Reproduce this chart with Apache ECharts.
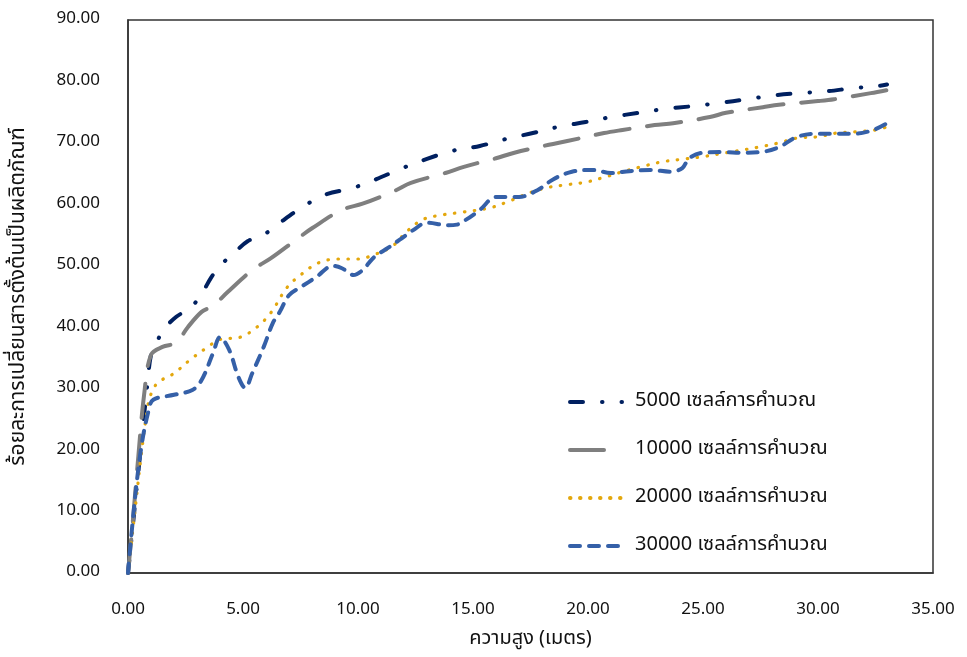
<!DOCTYPE html>
<html>
<head>
<meta charset="utf-8">
<script src="https://cdn.jsdelivr.net/npm/echarts@6/dist/echarts.min.js"></script>
<style>
html,body{margin:0;padding:0;background:#fff;}
#chart{width:967px;height:657px;}
</style>
</head>
<body>
<div id="chart"></div>
<script>
// ---- data ----
const seriesNames = ['5000 เซลล์การคำนวณ','10000 เซลล์การคำนวณ','20000 เซลล์การคำนวณ','30000 เซลล์การคำนวณ'];
const xTicks = [0,5,10,15,20,25,30,35];
const yTicks = [0,10,20,30,40,50,60,70,80,90];

const x5000 = [0,0.3,0.6,0.85,1,1.2,1.5,2.1,2.7,3.2,3.6,4,4.65,5.2,6,6.6,7.6,8.6,9.8,10.8,11.8,13,14.1,15.3,16.4,17.6,18.7,19.9,21,22.2,23.3,24.6,25.7,26.9,28,29.2,30.4,31.5,32.7,33];
const y5000 = [0,11,22,31,35.5,37,39.4,41.7,43.1,45.4,48,50,52.2,54,55.3,57,59.6,61.6,62.7,64.1,65.7,67.4,68.7,69.5,70.6,71.6,72.6,73.4,74.2,74.9,75.5,76,76.5,77.1,77.7,78.1,78.4,78.9,79.3,79.5];

const x10000 = [0,0.2,0.45,0.7,1,1.5,2.1,2.6,3.2,3.7,4.3,5.4,6.2,7.4,8,9.3,10.2,11.6,12.3,13.8,14.6,16,16.8,18.3,19.1,20.7,21.5,22.9,23.7,25.3,26,27.6,28.3,30,30.7,32.3,33];
const y10000 = [0,8,19,29,35.5,36.8,37.5,40,42.5,43.5,45.6,49.3,51.2,54.5,56.1,59.1,60.1,62.2,63.5,65.1,66.1,67.5,68.4,69.7,70.3,71.6,72.1,72.9,73.2,74.2,74.9,75.8,76.2,76.8,77.1,78.1,78.6];

const x20000 = [0,0.3,0.6,0.9,1.05,1.3,2,2.7,3.4,4,4.9,5.6,6.2,6.9,7.5,8.3,9.1,10,10.7,11.5,12.1,12.8,13.7,14.5,15.7,16.5,17.4,18.2,19.1,19.9,20.7,21.5,22.4,23.2,24,24.9,25.7,26.5,27.4,28.3,29.1,30,30.8,31.6,32.5,33];
const y20000 = [0,10,20,28,29.5,31,32.5,34.7,36.6,38,38.4,40,42.3,46.4,48.5,50.5,51.1,51.1,51.8,53.2,55.5,57.5,58.3,58.7,59.4,60.4,61.8,62.7,63.2,63.6,64.4,65.3,66.2,66.9,67.3,67.7,68.2,68.7,69.3,70,70.8,71,71.6,71.8,72.1,72.6];

const x30000 = [0,0.3,0.6,0.9,1.1,2,2.8,3.2,3.7,4,4.4,4.8,5.1,5.4,5.9,6.3,6.6,7,7.5,8.2,8.9,9.3,9.8,10.2,10.7,11.3,11.8,12.4,13,13.9,14.3,14.7,15.3,16,17,17.8,18.5,19.3,20.2,21,21.8,22.7,23.6,24.1,24.4,25,25.9,26.7,27.5,28.3,29.1,30,30.8,31.6,32.4,33];
const y30000 = [0,12,21,26.5,28.2,29,29.8,31.4,35.8,38.4,36.3,31.9,30.1,32.5,36.8,40.7,42.5,45.2,46.5,48.2,50,49.6,48.5,49.3,51.4,52.9,54.2,55.8,57,56.6,56.7,57.5,59.1,61.2,61.2,62.3,64.1,65.3,65.6,65.1,65.4,65.6,65.3,65.9,67.5,68.4,68.5,68.4,68.5,69.3,71,71.5,71.5,71.5,72.1,73.2];

const zip = (xs, ys) => xs.map((x, i) => [x, ys[i]]);

const FONT = "Tahoma, 'Noto Sans Thai', 'Noto Sans', 'DejaVu Sans', sans-serif";
const chart = echarts.init(document.getElementById('chart'), null, {renderer: 'canvas'});

const mk = (name, data, color, width, type) => ({
  name, type: 'line', data, smooth: 0.35, symbol: 'none', showSymbol: false,
  lineStyle: {color, width, type, cap: 'round', join: 'round'},
  itemStyle: {color},
  animation: false
});

chart.setOption({
  animation: false,
  backgroundColor: '#fff',
  grid: {left: 128, top: 20, right: 34, bottom: 84, show: true, borderColor: '#333', borderWidth: 1.5},
  xAxis: {
    type: 'value', min: 0, max: 35, interval: 5,
    name: 'ความสูง (เมตร)', nameLocation: 'middle', nameGap: 57,
    nameTextStyle: {fontFamily: FONT, fontSize: 20, color: '#111'},
    axisLine: {show: true, lineStyle: {color: '#333', width: 1.5}},
    axisTick: {show: false}, splitLine: {show: false},
    axisLabel: {fontFamily: FONT, fontSize: 17, color: '#111', margin: 29, formatter: v => xTicks.includes(v) ? v.toFixed(2) : ''}
  },
  yAxis: {
    type: 'value', min: 0, max: 90, interval: 10,
    name: 'ร้อยละการเปลี่ยนสารตั้งต้นเป็นผลิตภัณฑ์', nameLocation: 'middle', nameGap: 98, nameRotate: 90,
    nameTextStyle: {fontFamily: FONT, fontSize: 21, color: '#111'},
    axisLine: {show: true, lineStyle: {color: '#333', width: 1.5}},
    axisTick: {show: false}, splitLine: {show: false},
    axisLabel: {fontFamily: FONT, fontSize: 17, color: '#111', margin: 28, formatter: v => yTicks.includes(v) ? v.toFixed(2) : ''}
  },
  legend: {
    orient: 'vertical', left: 563, top: 387, itemWidth: 52, itemHeight: 14, itemGap: 28,
    itemStyle: {opacity: 0},
    lineStyle: {width: 4, cap: 'round'},
    textStyle: {fontFamily: FONT, fontSize: 20, color: '#111', padding: [0,0,0,8]},
    data: seriesNames
  },
  series: [
    mk(seriesNames[0], zip(x5000, y5000), '#002060', 4, [13, 19, 0.5, 19]),
    mk(seriesNames[1], zip(x10000, y10000), '#7f7f7f', 4, [34, 18]),
    mk(seriesNames[2], zip(x20000, y20000), '#E3A70D', 3.2, [0.5, 9.5]),
    mk(seriesNames[3], zip(x30000, y30000), '#3560A8', 4, [10, 9])
  ]
});
</script>
</body>
</html>
